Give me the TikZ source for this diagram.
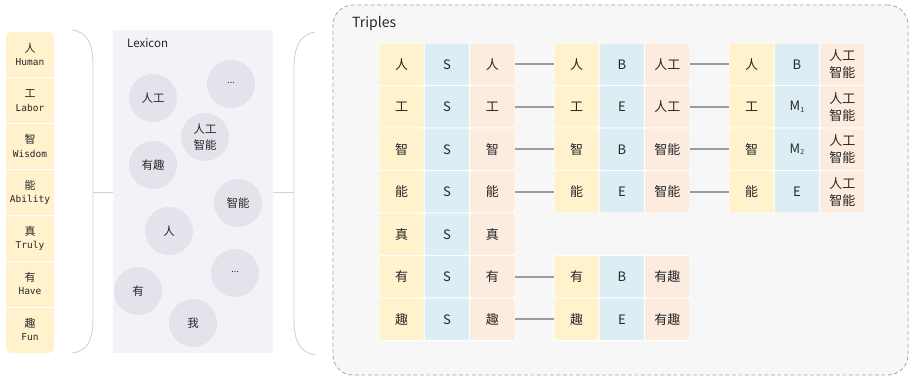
\documentclass[tikz,border=0pt]{standalone}
\usepackage{fontspec}
\setmainfont{Noto Sans CJK SC}
\newfontfamily\monof{DejaVu Sans Mono}
\definecolor{cy}{HTML}{FFF2CC}
\definecolor{cb}{HTML}{DCEEF3}
\definecolor{cp}{HTML}{FCEBDF}
\definecolor{lexbg}{HTML}{F3F2F7}
\definecolor{bubble}{HTML}{E6E2EB}
\definecolor{tribg}{HTML}{F7F7F7}
\definecolor{dashc}{HTML}{A6A6A6}
\definecolor{bracec}{HTML}{D2D2D2}
\definecolor{linkc}{HTML}{9C9C9C}
\definecolor{txt}{HTML}{262626}
\tikzset{
  cell/.style={minimum width=45.3pt, minimum height=42.5pt, rounded corners=2pt,
    draw=white, line width=0.8pt, inner sep=0pt, align=center, text=txt,
    font=\fontsize{13}{17}\selectfont},
  yc/.style={cell, fill=cy},
  bc/.style={cell, fill=cb},
  pc/.style={cell, fill=cp},
  lnk/.style={draw=linkc, line width=1.6pt},
  bub/.style={circle, fill=bubble, minimum size=48pt, inner sep=0pt, align=center,
    text=txt, font=\fontsize{11.5}{16}\selectfont},
  bracel/.style={draw=bracec, line width=0.9pt},
  wchar/.style={inner sep=0pt, text=txt, font=\fontsize{11}{12}\selectfont},
  weng/.style={inner sep=0pt, text=txt, font=\monof\fontsize{9.5}{10}\selectfont},
}
\newcommand{\triprow}[6]{%
  \node[yc] (#1y) at (#2+22.65, 64.25+#3*42.5) {#4};
  \node[bc] (#1b) at (#2+67.95, 64.25+#3*42.5) {#5};
  \node[pc] (#1p) at (#2+113.25, 64.25+#3*42.5) {#6};
}
\newcommand{\msub}[1]{M\raisebox{-0.25ex}{\fontsize{7}{8}\selectfont #1}}
\begin{document}
\begin{tikzpicture}[x=1pt,y=-1pt]
\useasboundingbox (0,0) rectangle (910,377);
\fill[white] (0,0) rectangle (910,377);

% left word column
\node[fill=cy, rounded corners=6pt, minimum width=48pt, minimum height=321pt, inner sep=0pt] (words) at (30,192.5) {};
\foreach \k in {1,...,6} \draw[white, line width=0.8pt] (6, 32+\k*45.857) -- (54, 32+\k*45.857);
\foreach \c/\e [count=\i] in {人/Human,工/Labor,智/Wisdom,能/Ability,真/Truly,有/Have,趣/Fun}{
  \node[wchar] (wc\i) at (30, 32+45.857*\i-22.93-7) {\c};
  \node[weng] (we\i) at (30, 32+45.857*\i-22.93+7) {\e};
}

% left brace
\draw[bracel] (72,30) .. controls (88,32) and (93,45) .. (93,65) -- (93,318) .. controls (93,340) and (88,351) .. (72,353);
\coordinate (lb) at (93,192);

% lexicon panel
\node[fill=lexbg, minimum width=160pt, minimum height=323pt, inner sep=0pt] (lex) at (193,191.5) {};
\node[anchor=base west, inner sep=0pt, text=txt, font=\fontsize{11.5}{14}\selectfont] (lexlabel) at (127,48) {Lexicon};
\draw[bracel] (lb) -- (lex.west |- lb);

\node[bub] (b1) at (153,98) {人工};
\node[bub] (b2) at (231,84) {\raisebox{0.4ex}{\fontsize{9}{10}\selectfont ...}};
\node[bub] (b3) at (205,137) {人工\\智能};
\node[bub] (b4) at (153,165) {有趣};
\node[bub] (b5) at (238,203) {智能};
\node[bub] (b6) at (169,231) {人};
\node[bub] (b7) at (235,273) {\raisebox{0.4ex}{\fontsize{9}{10}\selectfont ...}};
\node[bub] (b8) at (138,291) {有};
\node[bub] (b9) at (193,323) {我};

% right brace
\draw[bracel] (315,32) .. controls (299,35) and (294,48) .. (294,68) -- (294,320) .. controls (294,340) and (299,352) .. (315,355);
\coordinate (rb) at (294,192);
\draw[bracel] (lex.east |- rb) -- (rb);

% triples panel
\node[draw=dashc, dash pattern=on 4pt off 2.5pt, line width=0.8pt, fill=tribg, rounded corners=20pt,
  minimum width=575pt, minimum height=370pt, inner sep=0pt] (tri) at (620.5,190) {};
\node[anchor=base west, inner sep=0pt, text=txt, font=\fontsize{14}{16}\selectfont] (trilabel) at (352,28) {Triples};

% group 1
\triprow{ga0}{379}{0}{人}{S}{人}
\triprow{ga1}{379}{1}{工}{S}{工}
\triprow{ga2}{379}{2}{智}{S}{智}
\triprow{ga3}{379}{3}{能}{S}{能}
\triprow{ga4}{379}{4}{真}{S}{真}
\triprow{ga5}{379}{5}{有}{S}{有}
\triprow{ga6}{379}{6}{趣}{S}{趣}
% group 2
\triprow{gb0}{554}{0}{人}{B}{人工}
\triprow{gb1}{554}{1}{工}{E}{人工}
\triprow{gb2}{554}{2}{智}{B}{智能}
\triprow{gb3}{554}{3}{能}{E}{智能}
\triprow{gb5}{554}{5}{有}{B}{有趣}
\triprow{gb6}{554}{6}{趣}{E}{有趣}
% group 3
\triprow{gc0}{729}{0}{人}{B}{人工\\智能}
\triprow{gc1}{729}{1}{工}{\msub{1}}{人工\\智能}
\triprow{gc2}{729}{2}{智}{\msub{2}}{人工\\智能}
\triprow{gc3}{729}{3}{能}{E}{人工\\智能}

% links
\foreach \r in {0,1,2,3,5,6} \draw[lnk] (ga\r p.east) -- (gb\r y.west);
\foreach \r in {0,1,2,3} \draw[lnk] (gb\r p.east) -- (gc\r y.west);
\end{tikzpicture}
\end{document}
